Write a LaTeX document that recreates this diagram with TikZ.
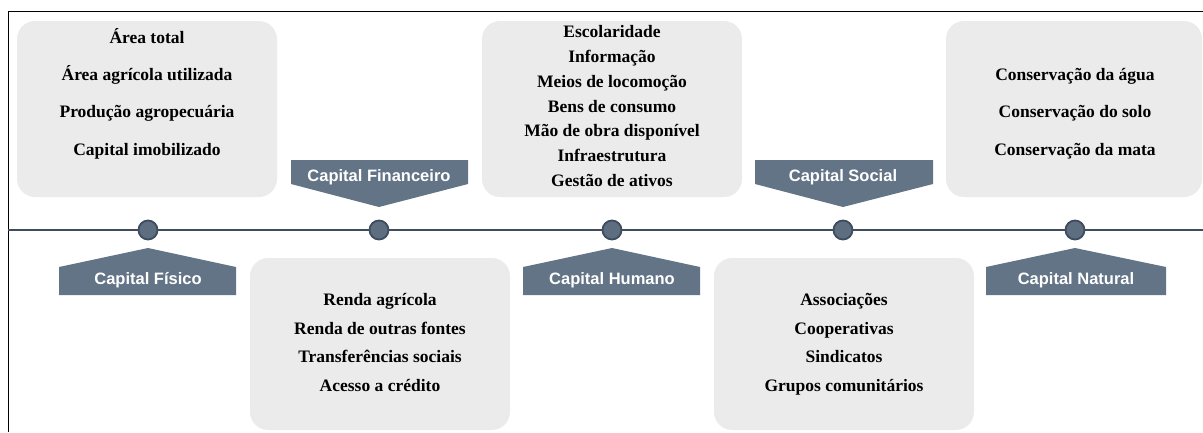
\documentclass[tikz,border=0pt]{standalone}
\usepackage{fontspec}
\setmainfont{Liberation Serif}
\setsansfont{Liberation Sans}
\begin{document}
\begin{tikzpicture}[x=1pt,y=-1pt,
  infobox/.style={fill=boxgray, rounded corners=18pt},
  itemtext/.style={font=\fontsize{17.5}{25}\selectfont\bfseries, text=black, anchor=base, inner sep=0pt},
  capfill/.style={fill=capgray},
  captext/.style={font=\fontsize{16.5}{20}\selectfont\sffamily\bfseries, text=white, inner sep=0pt},
  dot/.style={circle, fill=dotgray, draw=lineblue, line width=1.8pt, minimum size=19pt, inner sep=0pt}
]
\definecolor{boxgray}{HTML}{EBEBEB}
\definecolor{capgray}{HTML}{637487}
\definecolor{dotgray}{HTML}{5E6E81}
\definecolor{lineblue}{HTML}{3E4C5D}
\useasboundingbox (0,0) rectangle (1203,432);
% frame
\draw[line width=1pt, black] (8,432) -- (8,11) -- (1203,11);
% boxes
\fill[infobox] (17,21) rectangle (277,197);
\fill[infobox] (482,21) rectangle (742,197);
\fill[infobox] (946,21) rectangle (1202,197);
\fill[infobox] (250,258) rectangle (510,430);
\fill[infobox] (714,258) rectangle (974,430);
% box texts
\node[itemtext] (t1a) at (147,43) {Área total};
\node[itemtext] (t1b) at (147,80) {Área agrícola utilizada};
\node[itemtext] (t1c) at (147,117) {Produção agropecuária};
\node[itemtext] (t1d) at (147,155) {Capital imobilizado};
\node[itemtext] (t2a) at (380,305) {Renda agrícola};
\node[itemtext] (t2b) at (380,334) {Renda de outras fontes};
\node[itemtext] (t2c) at (380,362) {Transferências sociais};
\node[itemtext] (t2d) at (380,391) {Acesso a crédito};
\node[itemtext] (t3a) at (612,37) {Escolaridade};
\node[itemtext] (t3b) at (612,62) {Informação};
\node[itemtext] (t3c) at (612,87) {Meios de locomoção};
\node[itemtext] (t3d) at (612,112) {Bens de consumo};
\node[itemtext] (t3e) at (612,136) {Mão de obra disponível};
\node[itemtext] (t3f) at (612,161) {Infraestrutura};
\node[itemtext] (t3g) at (612,186) {Gestão de ativos};
\node[itemtext] (t4a) at (844,305) {Associações};
\node[itemtext] (t4b) at (844,334) {Cooperativas};
\node[itemtext] (t4c) at (844,362) {Sindicatos};
\node[itemtext] (t4d) at (844,391) {Grupos comunitários};
\node[itemtext] (t5a) at (1075,80) {Conservação da água};
\node[itemtext] (t5b) at (1075,117) {Conservação do solo};
\node[itemtext] (t5c) at (1075,155) {Conservação da mata};
% timeline
\coordinate (L) at (8,230);
\coordinate (R) at (1203,230);
\draw[lineblue, line width=1.8pt] (L) -- (R);
\node[dot] (d1) at (148,230) {};
\node[dot] (d2) at (379,230) {};
\node[dot] (d3) at (612,230) {};
\node[dot] (d4) at (843,230) {};
\node[dot] (d5) at (1075,230) {};
% capital labels (below, pointing up)
\fill[capfill] (59,295) -- (59,267) -- (148,248) -- (236,267) -- (236,295) -- cycle;
\node[captext] (c1) at (148,280) {Capital Físico};
\fill[capfill] (523,295) -- (523,267) -- (612,248) -- (700,267) -- (700,295) -- cycle;
\node[captext] (c3) at (612,280) {Capital Humano};
\fill[capfill] (986,295) -- (986,267) -- (1075,248) -- (1166,267) -- (1166,295) -- cycle;
\node[captext] (c5) at (1076,280) {Capital Natural};
% capital labels (above, pointing down)
\fill[capfill] (291,160) -- (468,160) -- (468,184) -- (379,207) -- (291,184) -- cycle;
\node[captext] (c2) at (379,177) {Capital Financeiro};
\fill[capfill] (755,160) -- (933,160) -- (933,184) -- (843,207) -- (755,184) -- cycle;
\node[captext] (c4) at (843,177) {Capital Social};
\end{tikzpicture}
\end{document}
